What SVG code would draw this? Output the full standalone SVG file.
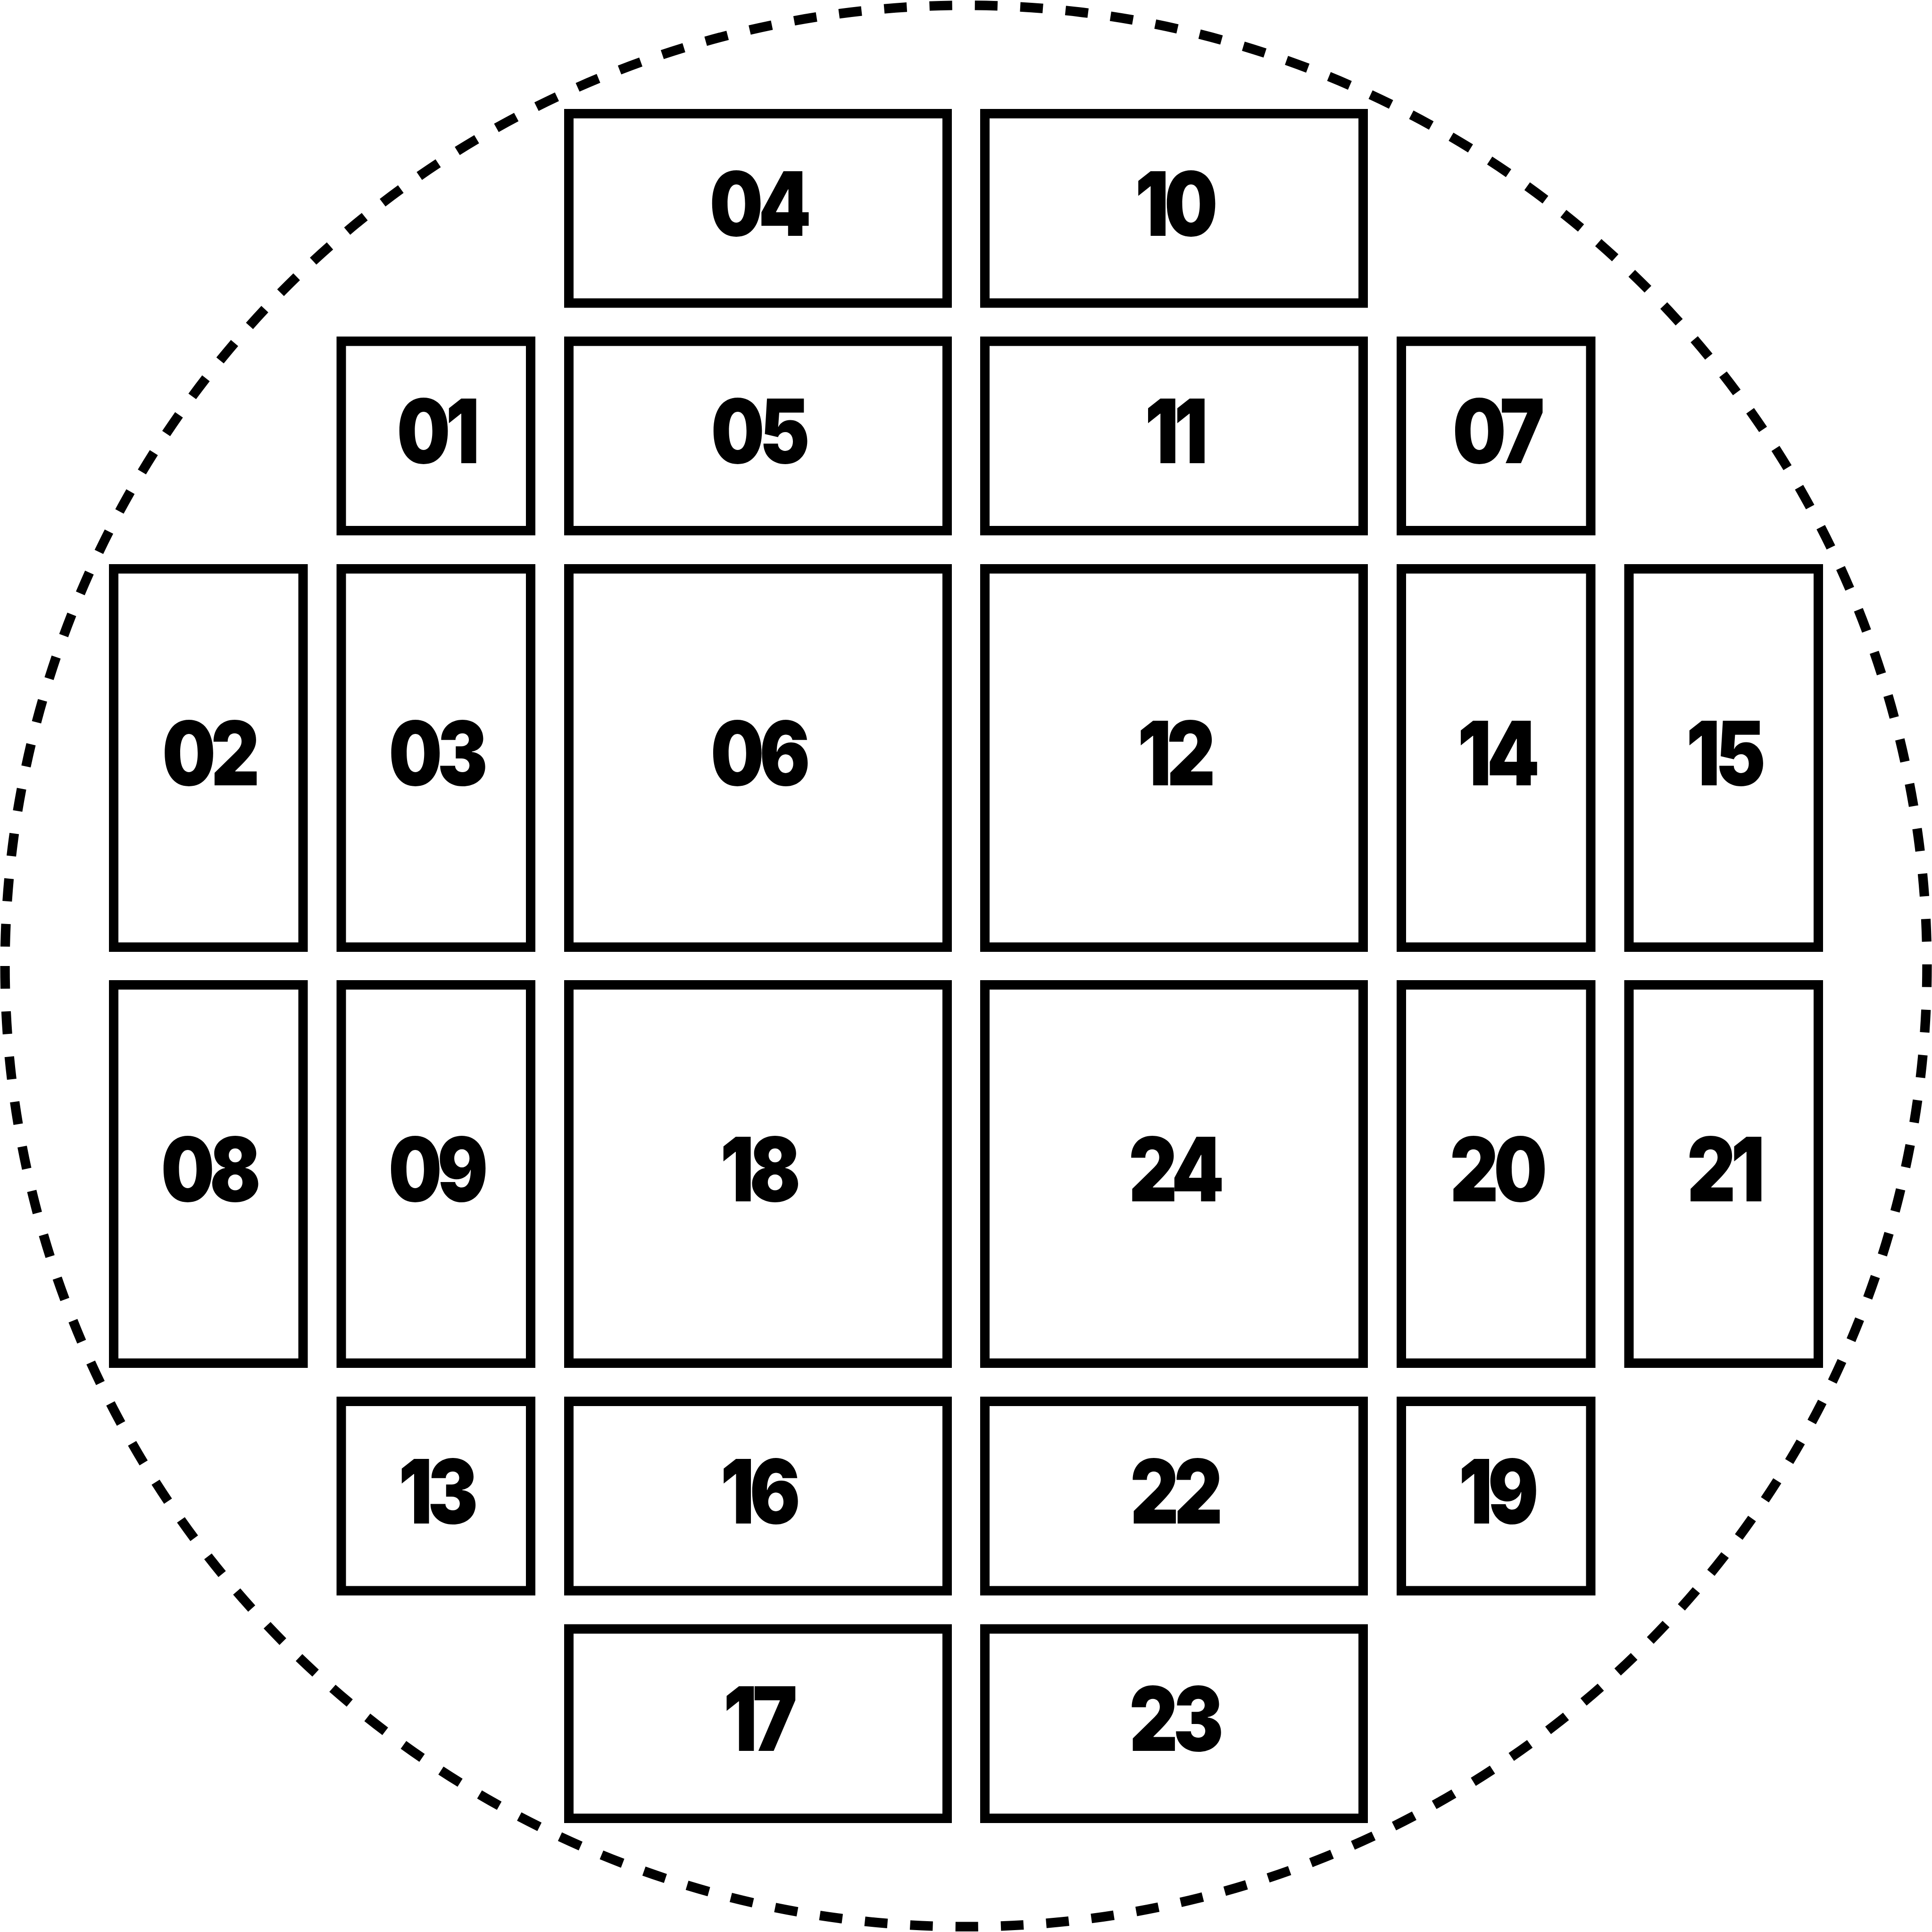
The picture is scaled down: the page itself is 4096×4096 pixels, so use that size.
<svg xmlns="http://www.w3.org/2000/svg" width="4096" height="4096" viewBox="0 0 4096 4096">
<style>
.b{fill:none;stroke:#000;stroke-width:20}
.t{font-family:Inter,"Liberation Sans",sans-serif;font-weight:900;font-size:188px;letter-spacing:-12px;text-anchor:middle;fill:#000}
.c{fill:none;stroke:#000;stroke-width:20.2;stroke-dasharray:48.14 48.14}
</style>
<rect width="4096" height="4096" fill="#fff"/>
<path class="c" d="M 10.6 2048 A 2037.4 2037.4 0 0 0 4085.4 2048 A 2037.4 2037.4 0 0 0 10.6 2048"/>
<g id="n04"><rect class="b" x="1206" y="241" width="802" height="401.5"/><text class="t" transform="translate(1607 500) scale(0.85 1)">04</text></g>
<g id="n10"><rect class="b" x="2088" y="241" width="802" height="401.5"/><text class="t" transform="translate(2489 500) scale(0.85 1)">10</text></g>
<g id="n01"><rect class="b" x="723.5" y="723.5" width="401.5" height="401.5"/><text class="t" transform="translate(924 982) scale(0.85 1)">01</text></g>
<g id="n05"><rect class="b" x="1206" y="723.5" width="802" height="401.5"/><text class="t" transform="translate(1607 982) scale(0.85 1)">05</text></g>
<g id="n11"><rect class="b" x="2088" y="723.5" width="802" height="401.5"/><text class="t" transform="translate(2489 982) scale(0.85 1)">11</text></g>
<g id="n07"><rect class="b" x="2971" y="723.5" width="401.5" height="401.5"/><text class="t" transform="translate(3172 982) scale(0.85 1)">07</text></g>
<g id="n02"><rect class="b" x="241" y="1206" width="401.5" height="802"/><text class="t" transform="translate(442 1665) scale(0.85 1)">02</text></g>
<g id="n03"><rect class="b" x="723.5" y="1206" width="401.5" height="802"/><text class="t" transform="translate(924 1665) scale(0.85 1)">03</text></g>
<g id="n06"><rect class="b" x="1206" y="1206" width="802" height="802"/><text class="t" transform="translate(1607 1665) scale(0.85 1)">06</text></g>
<g id="n12"><rect class="b" x="2088" y="1206" width="802" height="802"/><text class="t" transform="translate(2489 1665) scale(0.85 1)">12</text></g>
<g id="n14"><rect class="b" x="2971" y="1206" width="401.5" height="802"/><text class="t" transform="translate(3172 1665) scale(0.85 1)">14</text></g>
<g id="n15"><rect class="b" x="3453.5" y="1206" width="401.5" height="802"/><text class="t" transform="translate(3654 1665) scale(0.85 1)">15</text></g>
<g id="n08"><rect class="b" x="241" y="2088" width="401.5" height="802"/><text class="t" transform="translate(442 2547) scale(0.85 1)">08</text></g>
<g id="n09"><rect class="b" x="723.5" y="2088" width="401.5" height="802"/><text class="t" transform="translate(924 2547) scale(0.85 1)">09</text></g>
<g id="n18"><rect class="b" x="1206" y="2088" width="802" height="802"/><text class="t" transform="translate(1607 2547) scale(0.85 1)">18</text></g>
<g id="n24"><rect class="b" x="2088" y="2088" width="802" height="802"/><text class="t" transform="translate(2489 2547) scale(0.85 1)">24</text></g>
<g id="n20"><rect class="b" x="2971" y="2088" width="401.5" height="802"/><text class="t" transform="translate(3172 2547) scale(0.85 1)">20</text></g>
<g id="n21"><rect class="b" x="3453.5" y="2088" width="401.5" height="802"/><text class="t" transform="translate(3654 2547) scale(0.85 1)">21</text></g>
<g id="n13"><rect class="b" x="723.5" y="2971" width="401.5" height="401.5"/><text class="t" transform="translate(924 3230) scale(0.85 1)">13</text></g>
<g id="n16"><rect class="b" x="1206" y="2971" width="802" height="401.5"/><text class="t" transform="translate(1607 3230) scale(0.85 1)">16</text></g>
<g id="n22"><rect class="b" x="2088" y="2971" width="802" height="401.5"/><text class="t" transform="translate(2489 3230) scale(0.85 1)">22</text></g>
<g id="n19"><rect class="b" x="2971" y="2971" width="401.5" height="401.5"/><text class="t" transform="translate(3172 3230) scale(0.85 1)">19</text></g>
<g id="n17"><rect class="b" x="1206" y="3453.5" width="802" height="401.5"/><text class="t" transform="translate(1607 3712) scale(0.85 1)">17</text></g>
<g id="n23"><rect class="b" x="2088" y="3453.5" width="802" height="401.5"/><text class="t" transform="translate(2489 3712) scale(0.85 1)">23</text></g>
<g id="connectors"></g>
</svg>
